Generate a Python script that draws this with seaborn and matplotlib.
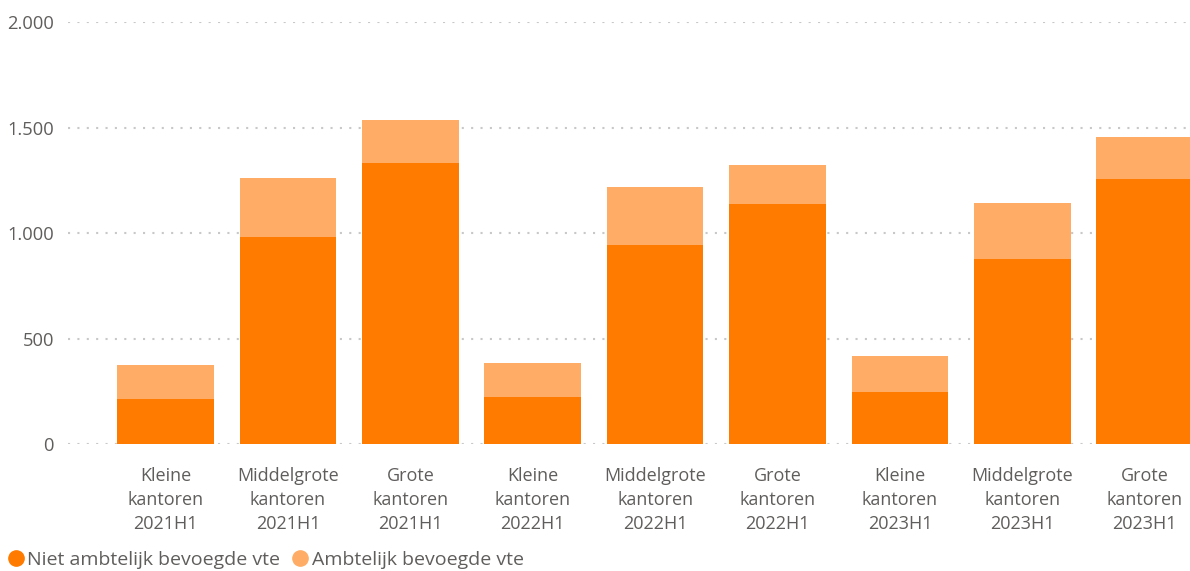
import matplotlib
matplotlib.use("Agg")
import matplotlib.pyplot as plt
import matplotlib.ticker as mticker
from matplotlib.lines import Line2D
import seaborn as sns
import pandas as pd

categories = [
    "Kleine\nkantoren\n2021H1", "Middelgrote\nkantoren\n2021H1", "Grote\nkantoren\n2021H1",
    "Kleine\nkantoren\n2022H1", "Middelgrote\nkantoren\n2022H1", "Grote\nkantoren\n2022H1",
    "Kleine\nkantoren\n2023H1", "Middelgrote\nkantoren\n2023H1", "Grote\nkantoren\n2023H1",
]
niet_ambtelijk = [216, 982, 1335, 223, 946, 1137, 246, 880, 1257]
ambtelijk = [160, 280, 202, 161, 275, 185, 174, 262, 198]
series_names = ["Niet ambtelijk bevoegde vte", "Ambtelijk bevoegde vte"]
y_ticks = [0, 500, 1000, 1500, 2000]

DARK = "#FF7B00"
LIGHT = "#FFAD66"
TXT = "#605E5C"

df = pd.DataFrame({"cat": categories, "bottom": niet_ambtelijk, "top": ambtelijk})
df["total"] = df["bottom"] + df["top"]

sns.set_theme(style="white")
plt.rcParams["font.family"] = ["Open Sans", "DejaVu Sans"]

fig = plt.figure(figsize=(11.9, 5.71), dpi=100)
ax = fig.add_axes([68 / 1190, 1 - 444.3 / 571, 1 - 68 / 1190, (444.3 - 22.3) / 571])

sns.barplot(data=df, x="cat", y="total", color=LIGHT, width=0.79, ax=ax,
            saturation=1, edgecolor="none", zorder=2)
sns.barplot(data=df, x="cat", y="bottom", color=DARK, width=0.79, ax=ax,
            saturation=1, edgecolor="none", zorder=3)

ax.set_ylim(0, 2000)
ax.set_xlim(-0.797, 8.37)
ax.set_yticks(y_ticks)
ax.yaxis.set_major_formatter(mticker.FuncFormatter(lambda v, p: f"{int(v):,}".replace(",", ".")))
ax.grid(axis="y", color="#C8C8C8", linestyle=(0, (1, 3.5)), linewidth=1.5, zorder=0)
ax.grid(axis="x", visible=False)
ax.set_axisbelow(True)
for s in ax.spines.values():
    s.set_visible(False)
ax.set_xlabel("")
ax.set_ylabel("")
ax.tick_params(axis="y", length=0, pad=10, labelsize=13.2, labelcolor=TXT)
ax.tick_params(axis="x", length=0, pad=16, labelsize=13.0, labelcolor=TXT)
for lbl in ax.get_xticklabels():
    lbl.set_linespacing(1.45)

handles = [
    Line2D([], [], marker="o", linestyle="none", markersize=11, color=DARK, label=series_names[0]),
    Line2D([], [], marker="o", linestyle="none", markersize=11, color=LIGHT, label=series_names[1]),
]
fig.legend(handles=handles, loc="center left", bbox_to_anchor=(6 / 1190, 1 - 560 / 571),
           ncol=2, frameon=False, fontsize=14, handletextpad=0.1, columnspacing=0.5,
           handlelength=1.0, labelcolor=TXT, borderaxespad=0, borderpad=0)

fig.savefig("out.png", dpi=100)
